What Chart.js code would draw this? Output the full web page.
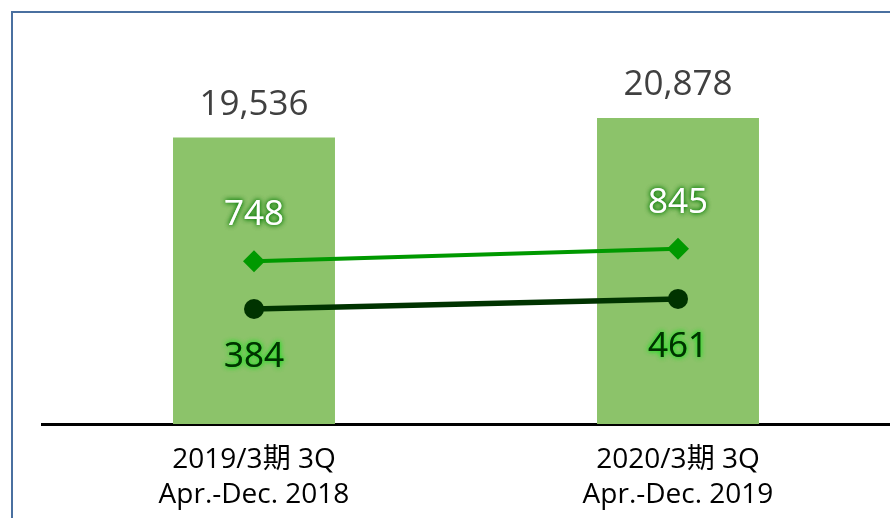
<!DOCTYPE html>
<html>
<head>
<meta charset="utf-8">
<script src="https://cdn.jsdelivr.net/npm/chart.js@4.4.1/dist/chart.umd.min.js"></script>
<style>
  html, body { margin: 0; padding: 0; background: #fff; overflow: hidden; }
  #wrap { position: relative; width: 890px; height: 518px; }
  #frame { position: absolute; left: 11px; top: 11px; width: 900px; height: 520px;
           border-top: 2px solid #4a70a0; border-left: 2px solid #4a70a0; pointer-events: none; }
</style>
</head>
<body>
<div id="wrap">
  <canvas id="chart" width="890" height="518"></canvas>
  <div id="frame"></div>
</div>
<script>
// data
var categories = [['2019/3期 3Q', 'Apr.-Dec. 2018'], ['2020/3期 3Q', 'Apr.-Dec. 2019']];
var salesValues = [19536, 20878];
var upperLineValues = [748, 845];
var lowerLineValues = [384, 461];

var FONT = "'Open Sans', 'Noto Sans CJK JP', sans-serif";

// draws the value text next to each bar / point
var valueLabels = {
    id: 'valueLabels',
    afterDatasetsDraw: function(chart) {
        var ctx = chart.ctx;
        chart.data.datasets.forEach(function(ds, i) {
            var meta = chart.getDatasetMeta(i);
            meta.data.forEach(function(el, j) {
                var txt = ds.data[j].toLocaleString('en-US');
                ctx.save();
                ctx.font = '35px ' + FONT;
                ctx.textAlign = 'center';
                ctx.textBaseline = 'middle';
                if (ds.labelStyle == 'bar') {
                    ctx.fillStyle = '#404040';
                    ctx.fillText(txt, el.x, el.y - 33);
                } else if (ds.labelStyle == 'above') {
                    ctx.shadowColor = 'rgba(0,120,0,0.9)';
                    ctx.shadowBlur = 5;
                    ctx.fillStyle = '#ffffff';
                    ctx.fillText(txt, el.x, el.y - 46);
                    ctx.fillText(txt, el.x, el.y - 46);
                } else {
                    ctx.shadowColor = 'rgba(40,220,40,1)';
                    ctx.shadowBlur = 5;
                    ctx.fillStyle = '#003300';
                    ctx.fillText(txt, el.x, el.y + 48);
                    ctx.fillText(txt, el.x, el.y + 48);
                }
                ctx.restore();
            });
        });
    }
};

var ctx = document.getElementById('chart');
var myChart = new Chart(ctx, {
    type: 'bar',
    data: {
        labels: categories,
        datasets: [
            {
                type: 'line',
                data: upperLineValues,
                yAxisID: 'y1',
                borderColor: '#009900',
                borderWidth: 4,
                pointStyle: 'rectRot',
                pointRadius: 11,
                pointBackgroundColor: '#009900',
                pointBorderWidth: 0,
                labelStyle: 'above',
                order: 1
            },
            {
                type: 'line',
                data: lowerLineValues,
                yAxisID: 'y1',
                borderColor: '#003300',
                borderWidth: 5.5,
                pointStyle: 'circle',
                pointRadius: 10,
                pointBackgroundColor: '#003300',
                pointBorderWidth: 0,
                labelStyle: 'below',
                order: 2
            },
            {
                type: 'bar',
                data: salesValues,
                yAxisID: 'y',
                backgroundColor: '#8cc36a',
                barPercentage: 0.382,
                categoryPercentage: 1,
                labelStyle: 'bar',
                order: 3
            }
        ]
    },
    plugins: [valueLabels],
    options: {
        responsive: false,
        animation: false,
        layout: { autoPadding: false, padding: { left: 42, right: 0, top: 12, bottom: 0 } },
        plugins: { legend: { display: false }, tooltip: { enabled: false } },
        scales: {
            x: {
                grid: { display: false, drawTicks: false },
                border: { display: true, color: '#000000', width: 3 },
                ticks: {
                    color: '#000000',
                    padding: 19,
                    font: { family: FONT, size: 28, lineHeight: 1.25 }
                },
                afterFit: function(scale) { scale.height = 94; }
            },
            y: {
                display: false,
                min: 0,
                max: 28100
            },
            y1: {
                display: false,
                min: -495,
                max: 2654
            }
        }
    }
});
</script>
</body>
</html>
